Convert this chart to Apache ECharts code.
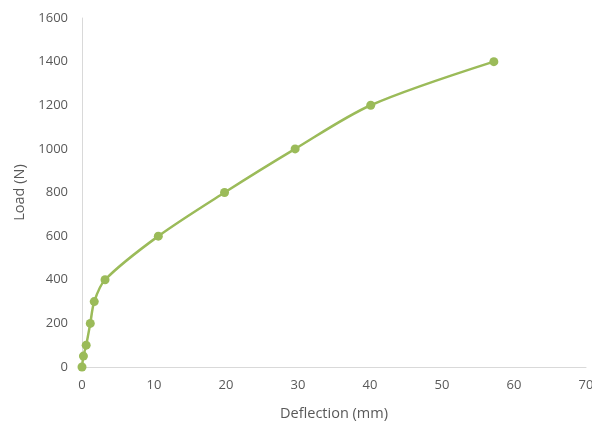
<!DOCTYPE html>
<html>
<head>
<meta charset="utf-8">
<script src="https://cdn.jsdelivr.net/npm/echarts@6/dist/echarts.min.js"></script>
<style>html,body{margin:0;padding:0;background:#fff}#c{width:592px;height:424px}</style>
</head>
<body>
<div id="c"></div>
<script>
const deflection = [0, 0.2, 0.58, 1.15, 1.7, 3.2, 10.6, 19.8, 29.6, 40.1, 57.2];
const load = [0, 50, 100, 200, 300, 400, 600, 800, 1000, 1200, 1400];
const xTitle = 'Deflection (mm)';
const yTitle = 'Load (N)';

const chart = echarts.init(document.getElementById('c'));
const font = "'Open Sans', 'Liberation Sans', sans-serif";
chart.setOption({
  animation: false,
  grid: { left: 82, right: 6, top: 18, bottom: 57, containLabel: false, outerBoundsMode: 'none' },
  xAxis: {
    type: 'value', min: 0, max: 70, interval: 10,
    name: xTitle, nameLocation: 'middle', nameGap: 39,
    nameTextStyle: { color: '#595959', fontSize: 14.5, fontFamily: font },
    axisLine: { show: true, lineStyle: { color: '#d9d9d9', width: 1 } },
    axisTick: { show: false },
    splitLine: { show: false },
    axisLabel: { color: '#595959', fontSize: 13, fontFamily: font, margin: 12, formatter: v => String(v) }
  },
  yAxis: {
    type: 'value', min: 0, max: 1600, interval: 200,
    name: yTitle, nameLocation: 'middle', nameGap: 55, nameRotate: 90,
    nameTextStyle: { color: '#595959', fontSize: 14.5, fontFamily: font },
    axisLine: { show: true, lineStyle: { color: '#d9d9d9', width: 1 } },
    axisTick: { show: false },
    splitLine: { show: false },
    axisLabel: { color: '#595959', fontSize: 13, fontFamily: font, margin: 14, formatter: v => String(v) }
  },
  series: [{
    type: 'line',
    data: deflection.map((d, i) => [d, load[i]]),
    smooth: 0.3,
    symbol: 'circle', symbolSize: 9,
    lineStyle: { color: '#9bbb59', width: 2.5 },
    itemStyle: { color: '#9bbb59' }
  }]
});
</script>
</body>
</html>
